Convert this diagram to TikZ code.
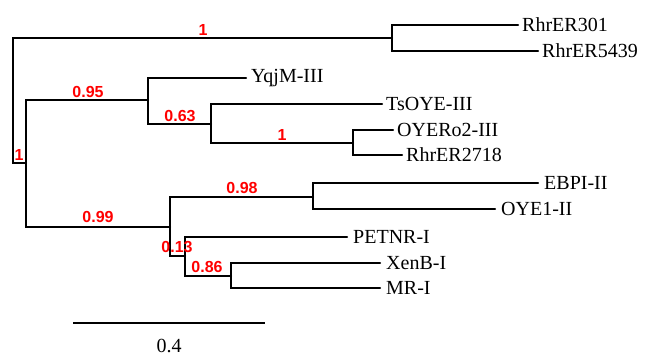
\documentclass[tikz,border=0pt]{standalone}
\usepackage{fontspec}
\setmainfont{Liberation Serif}
\newfontfamily\supfont{Liberation Sans}
\begin{document}
\begin{tikzpicture}[x=1pt,y=-1pt,
  branch/.style={line width=2.4pt,line cap=round},
  leaf/.style={anchor=west,inner sep=0pt,font=\fontsize{20}{20}\selectfont},
  support/.style={text=red,inner sep=0pt,font=\supfont\bfseries\fontsize{16}{16}\selectfont}]

\useasboundingbox (0,0) rectangle (648,353);

% internal nodes
\coordinate (root) at (13,100);
\coordinate (rhr) at (392,38);
\coordinate (bot) at (26,163);
\coordinate (ua) at (148,100);
\coordinate (ub) at (211,124);
\coordinate (uc) at (353,143);
\coordinate (la) at (170,227);
\coordinate (lb) at (313,197);
\coordinate (lc) at (185,256);
\coordinate (ld) at (231,276);

% leaf tips
\coordinate (r301_) at (518,25);
\coordinate (r5439_) at (538,51);
\coordinate (yqjm_) at (246,78);
\coordinate (tsoye_) at (382,104);
\coordinate (oyero_) at (393,130);
\coordinate (r2718_) at (402,155);
\coordinate (ebpi_) at (538,183);
\coordinate (oye_) at (495,209);
\coordinate (petnr_) at (347,237);
\coordinate (xenb_) at (380,263);
\coordinate (mr_) at (380,288);

\node[leaf] (r301) at ([xshift=4pt]r301_) {RhrER301};
\node[leaf] (r5439) at ([xshift=4pt]r5439_) {RhrER5439};
\node[leaf] (yqjm) at ([xshift=5pt]yqjm_) {YqjM-III};
\node[leaf] (tsoye) at ([xshift=4pt]tsoye_) {TsOYE-III};
\node[leaf] (oyero) at ([xshift=4pt]oyero_) {OYERo2-III};
\node[leaf] (r2718) at ([xshift=4pt]r2718_) {RhrER2718};
\node[leaf] (ebpi) at ([xshift=6pt]ebpi_) {EBPI-II};
\node[leaf] (oye) at ([xshift=6pt]oye_) {OYE1-II};
\node[leaf] (petnr) at ([xshift=6pt]petnr_) {PETNR-I};
\node[leaf] (xenb) at ([xshift=6pt]xenb_) {XenB-I};
\node[leaf] (mr) at ([xshift=6pt]mr_) {MR-I};

\foreach \from/\to in {root/rhr, rhr/r301_, rhr/r5439_, root/bot,
  bot/ua, ua/yqjm_, ua/ub, ub/tsoye_, ub/uc, uc/oyero_, uc/r2718_,
  bot/la, la/lb, lb/ebpi_, lb/oye_, la/lc, lc/petnr_, lc/ld, ld/xenb_, ld/mr_}
	\draw[branch] (\from) |- (\to);

% support values
\node[support] (s1) at (203,30) {1};
\node[support] (s2) at (19,155) {1};
\node[support] (s3) at (88,92) {0.95};
\node[support] (s4) at (180,116) {0.63};
\node[support] (s5) at (282,135) {1};
\node[support] (s6) at (98,217) {0.99};
\node[support] (s7) at (242,188) {0.98};
\node[support] (s8) at (177,247) {0.13};
\node[support] (s9) at (207,267) {0.86};

% scale bar
\coordinate (bar1) at (73,323);
\coordinate (bar2) at (265,323);
\draw[line width=2.4pt] (bar1) -- (bar2);
\node[anchor=base,inner sep=0pt,font=\fontsize{20}{20}\selectfont] (scale) at (169,352) {0.4};

\end{tikzpicture}
\end{document}
